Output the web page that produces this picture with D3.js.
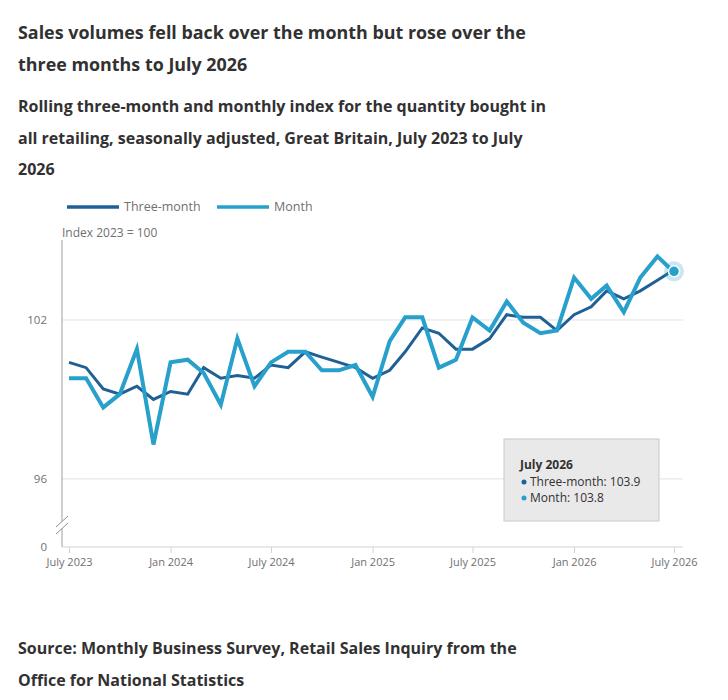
<!DOCTYPE html>
<html>
<head>
<meta charset="utf-8">
<script src="https://cdn.jsdelivr.net/npm/d3@7"></script>
<style>
  body { margin: 0; background: #fff; font-family: "Open Sans", sans-serif; }
</style>
</head>
<body>
<div id="chart"></div>
<script>
// data
const months = ["2023-07","2023-08","2023-09","2023-10","2023-11","2023-12",
  "2024-01","2024-02","2024-03","2024-04","2024-05","2024-06",
  "2024-07","2024-08","2024-09","2024-10","2024-11","2024-12",
  "2025-01","2025-02","2025-03","2025-04","2025-05","2025-06",
  "2025-07","2025-08","2025-09","2025-10","2025-11","2025-12",
  "2026-01","2026-02","2026-03","2026-04","2026-05","2026-06","2026-07"];
const threeMonth = [100.4, 100.2, 99.4, 99.2, 99.5, 99.0, 99.3, 99.2, 100.2, 99.8, 99.9, 99.8,
  100.3, 100.2, 100.8, 100.6, 100.4, 100.2, 99.8, 100.1, 100.8, 101.7, 101.5, 100.9,
  100.9, 101.3, 102.2, 102.1, 102.1, 101.6, 102.2, 102.5, 103.1, 102.8, 103.1, 103.5, 103.9];
const monthly = [99.8, 99.8, 98.7, 99.2, 100.9, 97.3, 100.4, 100.5, 100.0, 98.8, 101.3, 99.5,
  100.4, 100.8, 100.8, 100.1, 100.1, 100.3, 99.1, 101.2, 102.1, 102.1, 100.2, 100.5,
  102.1, 101.6, 102.7, 101.9, 101.5, 101.6, 103.6, 102.8, 103.3, 102.3, 103.6, 104.4, 103.8];
const seriesNames = ["Three-month", "Month"];
const yTicks = [96, 102];
const titleLines = ["Sales volumes fell back over the month but rose over the",
  "three months to July 2026"];
const subtitleLines = ["Rolling three-month and monthly index for the quantity bought in",
  "all retailing, seasonally adjusted, Great Britain, July 2023 to July",
  "2026"];
const sourceLines = ["Source: Monthly Business Survey, Retail Sales Inquiry from the",
  "Office for National Statistics"];

const W = 728, H = 700;
const colors = ["#206095", "#27a0cc"];
const textDark = "#323132", textGrey = "#707071";

const parse = d3.timeParse("%Y-%m");
const dates = months.map(parse);

const svg = d3.select("#chart")
    .append("svg")
    .attr("width", W)
    .attr("height", H)
    .style("font-family", "'Open Sans', sans-serif");

// titles
svg.append("g").selectAll("text")
    .data(titleLines)
    .join("text")
    .attr("x", 18)
    .attr("y", (d, i) => 39 + i * 32)
    .style("font-size", "17.9px")
    .style("font-weight", 700)
    .style("fill", textDark)
    .text(d => d);

svg.append("g").selectAll("text")
    .data(subtitleLines)
    .join("text")
    .attr("x", 18)
    .attr("y", (d, i) => 112 + i * 31.5)
    .style("font-size", "16px")
    .style("font-weight", 700)
    .style("fill", textDark)
    .text(d => d);

svg.append("g").selectAll("text")
    .data(sourceLines)
    .join("text")
    .attr("x", 18)
    .attr("y", (d, i) => 654 + i * 31.5)
    .style("font-size", "16px")
    .style("font-weight", 700)
    .style("fill", textDark)
    .text(d => d);

// legend
const legend = svg.append("g").selectAll("g")
    .data(seriesNames)
    .join("g")
    .attr("transform", (d, i) => `translate(${[67, 217][i]}, 207)`);
legend.append("line")
    .attr("x1", 0).attr("x2", 52)
    .attr("stroke", (d, i) => colors[i])
    .attr("stroke-width", 3.5);
legend.append("text")
    .attr("x", 57)
    .attr("dy", "0.35em")
    .style("font-size", "12.5px")
    .style("fill", textGrey)
    .text(d => d);

// scales
const x = d3.scaleTime()
    .domain(d3.extent(dates))
    .range([69, 674]);
const y = d3.scaleLinear()
    .domain([93.43, 105.02])
    .range([547, 240]);

const plotLeft = 62, plotRight = 683;

// gridlines
svg.append("g").selectAll("line")
    .data(yTicks)
    .join("line")
    .attr("x1", plotLeft).attr("x2", plotRight)
    .attr("y1", d => y(d)).attr("y2", d => y(d))
    .attr("stroke", "#e2e2e2")
    .attr("stroke-width", 1);

// y labels
const yLabels = yTicks.map(d => ({ v: d, label: String(d) }))
    .concat([{ v: y.domain()[0], label: "0" }]);
svg.append("g").selectAll("text")
    .data(yLabels)
    .join("text")
    .attr("x", 47)
    .attr("y", d => y(d.v))
    .attr("dy", "0.35em")
    .attr("text-anchor", "end")
    .style("font-size", "11.5px")
    .style("fill", textGrey)
    .text(d => d.label);

svg.append("text")
    .attr("x", plotLeft)
    .attr("y", 237)
    .style("font-size", "12px")
    .style("fill", textGrey)
    .text("Index 2023 = 100");

// y axis line
svg.append("line")
    .attr("x1", plotLeft).attr("x2", plotLeft)
    .attr("y1", y.range()[1]).attr("y2", y.range()[0])
    .attr("stroke", "#a0a0a0")
    .attr("stroke-width", 1);

// axis break
const brk = svg.append("g");
brk.append("path")
    .attr("d", `M${plotLeft - 6},${527} L${plotLeft + 6},${516} L${plotLeft + 6},${523} L${plotLeft - 6},${534} Z`)
    .attr("fill", "#fff");
brk.selectAll("line")
    .data([0, 7])
    .join("line")
    .attr("x1", plotLeft - 6).attr("x2", plotLeft + 6)
    .attr("y1", d => 527 + d).attr("y2", d => 516 + d)
    .attr("stroke", "#909090")
    .attr("stroke-width", 1);

// x axis
const fmt = d => d.getMonth() === 0 ? d3.timeFormat("Jan %Y")(d) : d3.timeFormat("July %Y")(d);
const xAxis = svg.append("g")
    .attr("transform", `translate(0, ${y.range()[0]})`)
    .call(d3.axisBottom(x)
        .tickValues(dates.filter(d => d.getMonth() % 6 === 0))
        .tickFormat(fmt)
        .tickSize(6)
        .tickPadding(5));
xAxis.select(".domain").remove();
xAxis.selectAll(".tick line").attr("stroke", "#cfd3d6");
xAxis.selectAll(".tick text")
    .style("font-family", "'Open Sans', sans-serif")
    .style("font-size", "11px")
    .style("fill", textGrey);
svg.append("line")
    .attr("x1", plotLeft).attr("x2", plotRight)
    .attr("y1", y.range()[0]).attr("y2", y.range()[0])
    .attr("stroke", "#cfd3d6")
    .attr("stroke-width", 1.2);

// lines
const line = d3.line()
    .x((d, i) => x(dates[i]))
    .y(d => y(d));

svg.append("path")
    .datum(threeMonth)
    .attr("fill", "none")
    .attr("stroke", colors[0])
    .attr("stroke-width", 3)
    .attr("stroke-linejoin", "miter")
    .attr("d", line);

svg.append("path")
    .datum(monthly)
    .attr("fill", "none")
    .attr("stroke", colors[1])
    .attr("stroke-width", 4)
    .attr("stroke-linejoin", "miter")
    .attr("d", line);

// highlighted last point
const last = dates.length - 1;
svg.append("circle")
    .attr("cx", x(dates[last]))
    .attr("cy", y(monthly[last]) - 1)
    .attr("r", 10)
    .attr("fill", colors[1])
    .attr("opacity", 0.25);
svg.append("circle")
    .attr("cx", x(dates[last]))
    .attr("cy", y(monthly[last]) - 1)
    .attr("r", 5.5)
    .attr("fill", colors[1])
    .attr("stroke", "#fff")
    .attr("stroke-width", 1.5);

// tooltip
const tip = svg.append("g").attr("transform", "translate(504, 439)");
tip.append("rect")
    .attr("width", 155)
    .attr("height", 82)
    .attr("fill", "#e9e9e9")
    .attr("stroke", "#c8c8c8")
    .attr("stroke-width", 1);
tip.append("text")
    .attr("x", 16).attr("y", 30)
    .style("font-size", "12px")
    .style("font-weight", 700)
    .style("fill", textDark)
    .text("July 2026");
const tipRows = [threeMonth[last], monthly[last]];
const rows = tip.selectAll("g.row")
    .data(tipRows)
    .join("g")
    .attr("class", "row")
    .attr("transform", (d, i) => `translate(0, ${47 + i * 16})`);
rows.append("circle")
    .attr("cx", 20).attr("cy", -4)
    .attr("r", 2.5)
    .attr("fill", (d, i) => colors[i]);
rows.append("text")
    .attr("x", 26)
    .style("font-size", "12px")
    .style("fill", textDark)
    .text((d, i) => `${seriesNames[i]}: ${d.toFixed(1)}`);
</script>
</body>
</html>
